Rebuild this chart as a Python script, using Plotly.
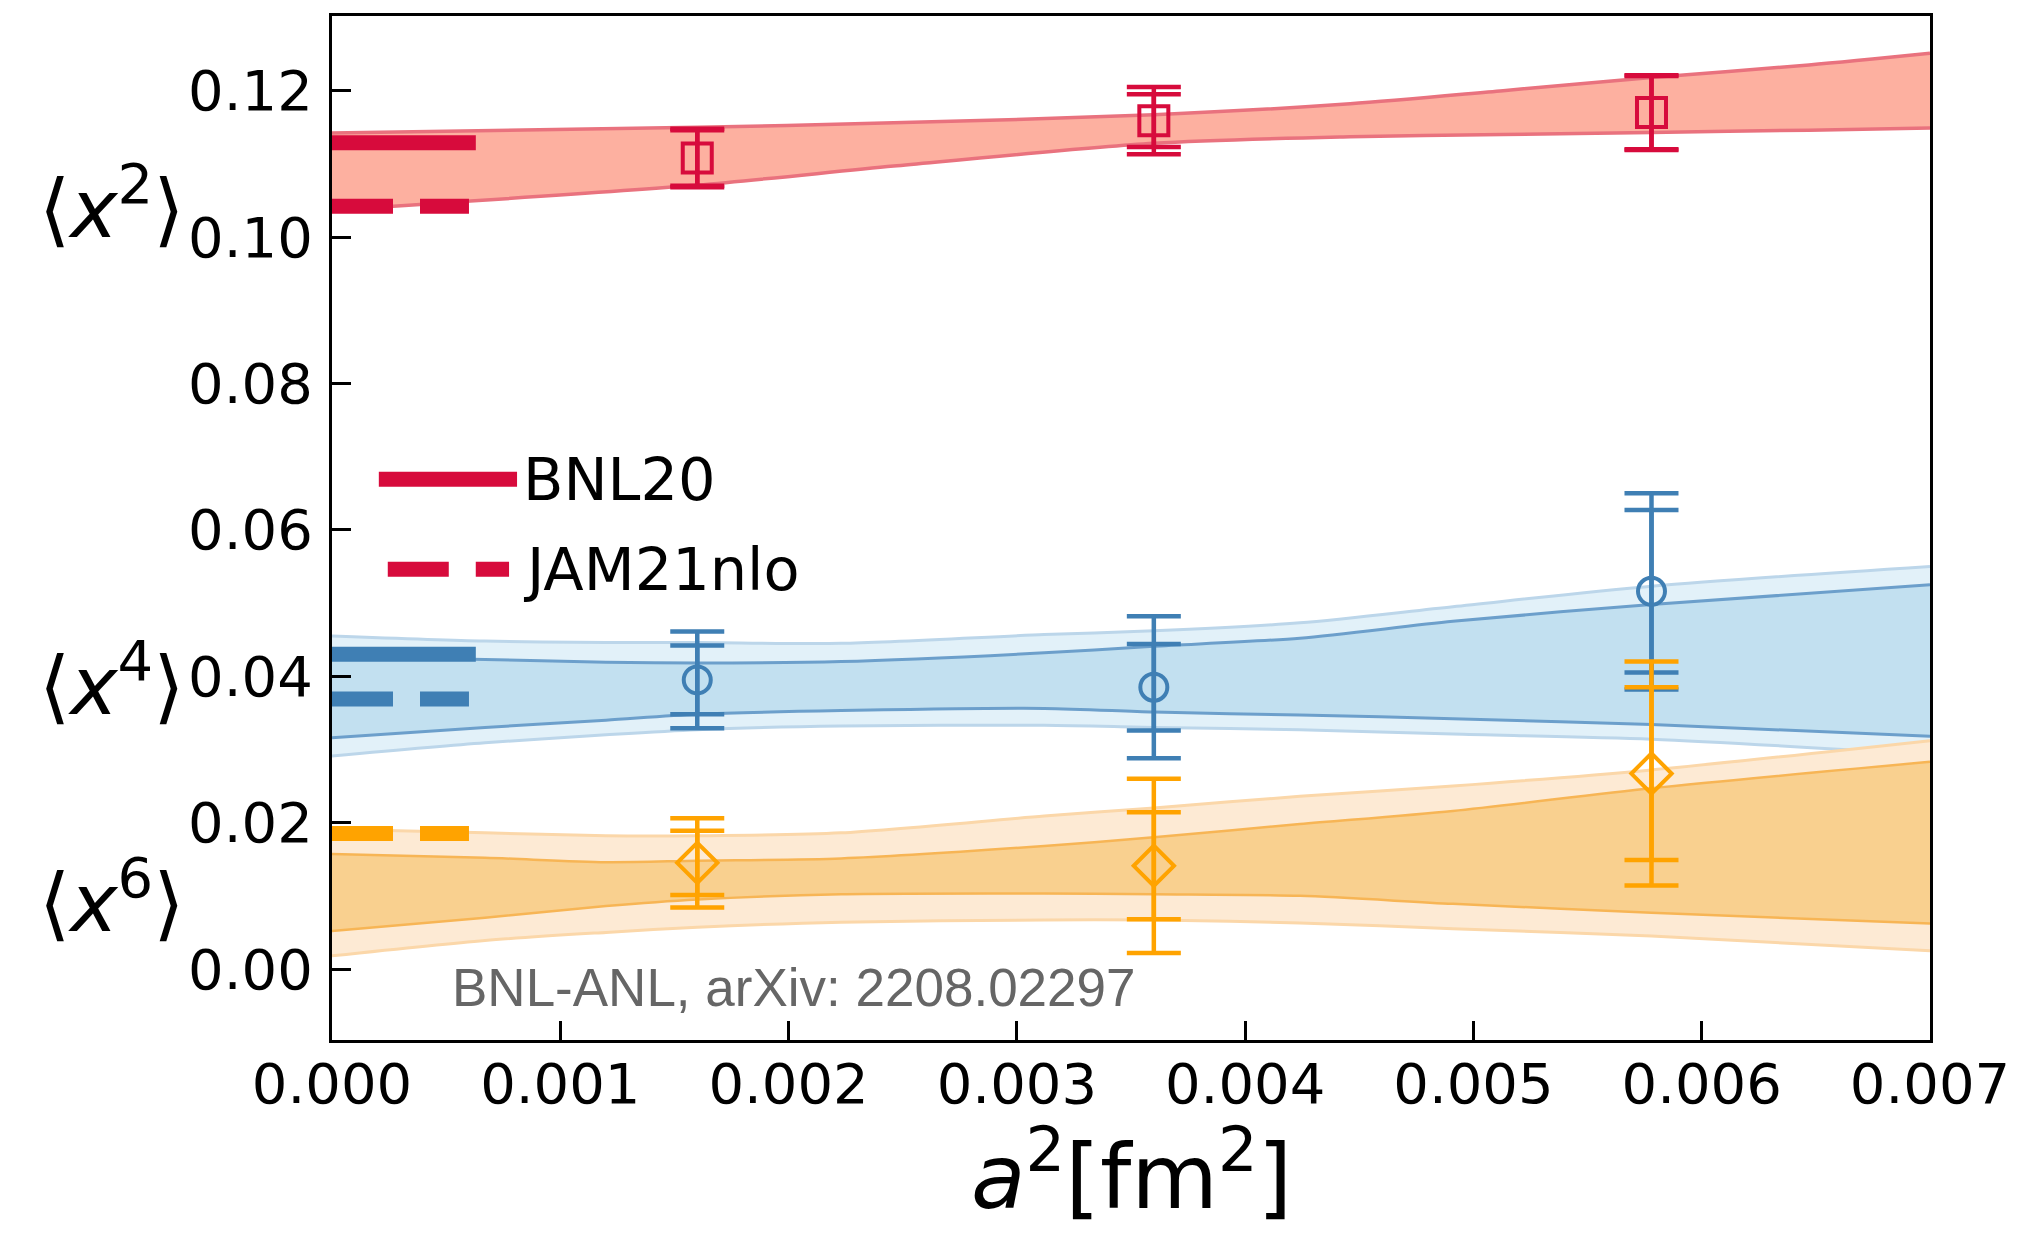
import plotly.graph_objects as go

# ---------------- data ----------------
a2 = [0.0016, 0.0036, 0.00578]          # lattice spacing squared [fm^2]

x2_val = [0.1108, 0.1159, 0.1170]
x2_stat = [0.0038, 0.0036, 0.0050]
x2_tot = [0.0040, 0.0046, 0.0051]

x4_val = [0.0395, 0.0385, 0.0516]
x4_stat = [0.0047, 0.0059, 0.0111]
x4_tot = [0.0066, 0.0097, 0.0134]

x6_val = [0.0145, 0.0141, 0.0267]
x6_stat = [0.0044, 0.0073, 0.0118]
x6_tot = [0.0061, 0.0119, 0.0153]

# continuum-fit bands
red_band_x = [0, 0.0016, 0.00246, 0.0036, 0.00446, 0.00513, 0.00578, 0.00647, 0.007]
x2_band_hi = [0.1142, 0.1150, 0.1156, 0.1167, 0.1182, 0.1200, 0.1218, 0.1235, 0.1251]
x2_band_lo = [0.1037, 0.1071, 0.1097, 0.1128, 0.1137, 0.1140, 0.1143, 0.1146, 0.1149]

band_x = [0, 0.00067, 0.0012, 0.0016, 0.00223, 0.00312, 0.0036, 0.00424, 0.00491, 0.00578, 0.007]
x4_outer_hi = [0.0455, 0.0448, 0.0446, 0.0446, 0.0445, 0.0457, 0.0462, 0.0473, 0.0495, 0.0523, 0.0550]
x4_inner_hi = [0.0427, 0.0423, 0.0419, 0.0418, 0.0420, 0.0432, 0.0441, 0.0452, 0.0475, 0.0498, 0.0525]
x4_inner_lo = [0.0316, 0.0330, 0.0340, 0.0348, 0.0353, 0.0356, 0.0351, 0.0347, 0.0342, 0.0334, 0.0318]
x4_outer_lo = [0.0291, 0.0309, 0.0320, 0.0327, 0.0332, 0.0333, 0.0330, 0.0327, 0.0321, 0.0314, 0.0293]

x6_outer_hi = [0.0191, 0.0186, 0.0182, 0.0182, 0.0186, 0.0209, 0.0220, 0.0236, 0.0250, 0.0272, 0.0312]
x6_inner_hi = [0.0157, 0.0152, 0.0146, 0.0148, 0.0151, 0.0168, 0.0180, 0.0198, 0.0216, 0.0247, 0.0283]
x6_inner_lo = [0.0052, 0.0070, 0.0086, 0.0095, 0.0102, 0.0103, 0.0102, 0.0100, 0.0089, 0.0077, 0.0062]
x6_outer_lo = [0.0018, 0.0039, 0.0050, 0.0057, 0.0064, 0.0067, 0.0067, 0.0063, 0.0055, 0.0045, 0.0025]

# previous lattice (BNL20) and global-fit (JAM21nlo) values, shown as short lines at a^2 -> 0
ref_x_solid = [0.0, 0.00063]
ref_x_dash = [0.0, 0.00060]
bnl20_x2 = 0.1129
bnl20_x4 = 0.0430
jam21_x2 = 0.1042
jam21_x4 = 0.0369
jam21_x6 = 0.0185

x_ticks = [0, 0.001, 0.002, 0.003, 0.004, 0.005, 0.006, 0.007]
x_tick_labels = ["0.000", "0.001", "0.002", "0.003", "0.004", "0.005", "0.006", "0.007"]
y_ticks = [0.00, 0.02, 0.04, 0.06, 0.08, 0.10, 0.12]
y_tick_labels = ["0.00", "0.02", "0.04", "0.06", "0.08", "0.10", "0.12"]

legend_labels = ["BNL20", "JAM21nlo"]
moment_labels = ["⟨<i>x</i><sup>2</sup>⟩", "⟨<i>x</i><sup>4</sup>⟩", "⟨<i>x</i><sup>6</sup>⟩"]
moment_label_y = [0.1046, 0.0394, 0.0098]

# ---------------- styles ----------------
RED = "#D70B3C"
BLUE = "#3F7FB4"
ORANGE = "#FFA300"
DASH = "61px,27px"
SMOOTH = 0.8

fig = go.Figure()


def band(x, hi, lo, fill, edge, ew):
    # lower boundary, then upper boundary filled down to it
    fig.add_trace(go.Scatter(x=x, y=lo, mode="lines",
                             line=dict(width=0, shape="spline", smoothing=SMOOTH),
                             hoverinfo="skip", showlegend=False))
    fig.add_trace(go.Scatter(x=x, y=hi, mode="lines", fill="tonexty", fillcolor=fill,
                             line=dict(width=0, shape="spline", smoothing=SMOOTH),
                             hoverinfo="skip", showlegend=False))
    for yy in (hi, lo):
        fig.add_trace(go.Scatter(x=x, y=yy, mode="lines",
                                 line=dict(color=edge, width=ew, shape="spline", smoothing=SMOOTH),
                                 hoverinfo="skip", showlegend=False))


# bands: outer (light) then inner (darker)
band(band_x, x4_outer_hi, x4_outer_lo, "#E2F1F9", "#BCD6EA", 3)
band(band_x, x4_inner_hi, x4_inner_lo, "#C2E0F0", "#6C9FCB", 3)
band(band_x, x6_outer_hi, x6_outer_lo, "#FDEAD4", "#FBD7A9", 3)
band(band_x, x6_inner_hi, x6_inner_lo, "#F9D08F", "#F7B555", 2.5)
band(red_band_x, x2_band_hi, x2_band_lo, "#FDB0A0", "#E9727E", 3.5)

# reference lines
for xs, yv, col, dash in [(ref_x_solid, bnl20_x2, RED, "solid"), (ref_x_dash, jam21_x2, RED, DASH),
                          (ref_x_solid, bnl20_x4, BLUE, "solid"), (ref_x_dash, jam21_x4, BLUE, DASH),
                          (ref_x_dash, jam21_x6, ORANGE, DASH)]:
    fig.add_trace(go.Scatter(x=xs, y=[yv, yv], mode="lines",
                             line=dict(color=col, width=15, dash=dash),
                             hoverinfo="skip", showlegend=False))


def points(vals, stat, tot, col, sym, size):
    fig.add_trace(go.Scatter(x=a2, y=vals, mode="markers",
                             marker=dict(size=size, color="rgba(0,0,0,0)"),
                             error_y=dict(type="data", array=tot, color=col, thickness=4.5, width=27),
                             hoverinfo="skip", showlegend=False))
    fig.add_trace(go.Scatter(x=a2, y=vals, mode="markers",
                             marker=dict(size=size, symbol=sym, color=col, line=dict(color=col, width=4)),
                             error_y=dict(type="data", array=stat, color=col, thickness=4.5, width=27),
                             showlegend=False))


points(x2_val, x2_stat, x2_tot, RED, "square-open", 29)
points(x4_val, x4_stat, x4_tot, BLUE, "circle-open", 27)
points(x6_val, x6_stat, x6_tot, ORANGE, "diamond-open", 31)

# ---------------- legend (drawn manually) ----------------
leg_y = [0.0669, 0.0546]
leg_x0 = [0.0293, 0.0349]
leg_x1 = [0.1158, 0.1108]
leg_dash = ["solid", DASH]
for lbl, yv, x0, x1, dash in zip(legend_labels, leg_y, leg_x0, leg_x1, leg_dash):
    fig.add_shape(type="line", xref="paper", yref="y", x0=x0, x1=x1, y0=yv, y1=yv,
                  line=dict(color=RED, width=15, dash=dash))
    fig.add_annotation(text=lbl, xref="paper", yref="y", x=0.1180, y=yv, xanchor="left",
                       yanchor="middle", showarrow=False,
                       font=dict(family="DejaVu Sans", size=59, color="black"))

# moment labels left of the y axis
for lbl, yv in zip(moment_labels, moment_label_y):
    fig.add_annotation(text=lbl, xref="paper", yref="y", x=-0.0915, y=yv, xanchor="right",
                       yanchor="middle", showarrow=False,
                       font=dict(family="DejaVu Sans", size=80, color="black"))

# x-axis title
fig.add_annotation(text="<i>a</i><sup>2</sup>[fm<sup>2</sup>]", xref="paper", yref="paper",
                   x=0.5, y=-0.128, xanchor="center", yanchor="middle", showarrow=False,
                   font=dict(family="DejaVu Sans", size=89, color="black"))

# citation
fig.add_annotation(text="BNL-ANL, arXiv: 2208.02297", xref="paper", yref="paper",
                   x=0.074, y=0.0516, xanchor="left", yanchor="middle", showarrow=False,
                   font=dict(family="Liberation Sans", size=53, color="#666666"))

# page body has an 8px margin: figure is sized so the plot area lands where the reference has it
fig.update_layout(width=2007, height=1220, margin=dict(l=324, r=77, t=5, b=188),
                  plot_bgcolor="white", paper_bgcolor="white", showlegend=False,
                  font=dict(family="DejaVu Sans", color="black"))
axis_common = dict(ticks="inside", ticklen=19, tickwidth=2.5, tickcolor="black",
                   showline=True, linecolor="black", linewidth=3, mirror=True,
                   showgrid=False, zeroline=False, ticklabeloverflow="allow",
                   tickfont=dict(family="DejaVu Sans", size=56, color="black"))
fig.update_xaxes(range=[0, 0.007], tickvals=x_ticks, ticktext=x_tick_labels,
                 ticklabelstandoff=-7, **axis_common)
fig.update_yaxes(range=[-0.0097, 0.1302], tickvals=y_ticks, ticktext=y_tick_labels,
                 ticklabelstandoff=5, **axis_common)

fig.write_html("out.html")
